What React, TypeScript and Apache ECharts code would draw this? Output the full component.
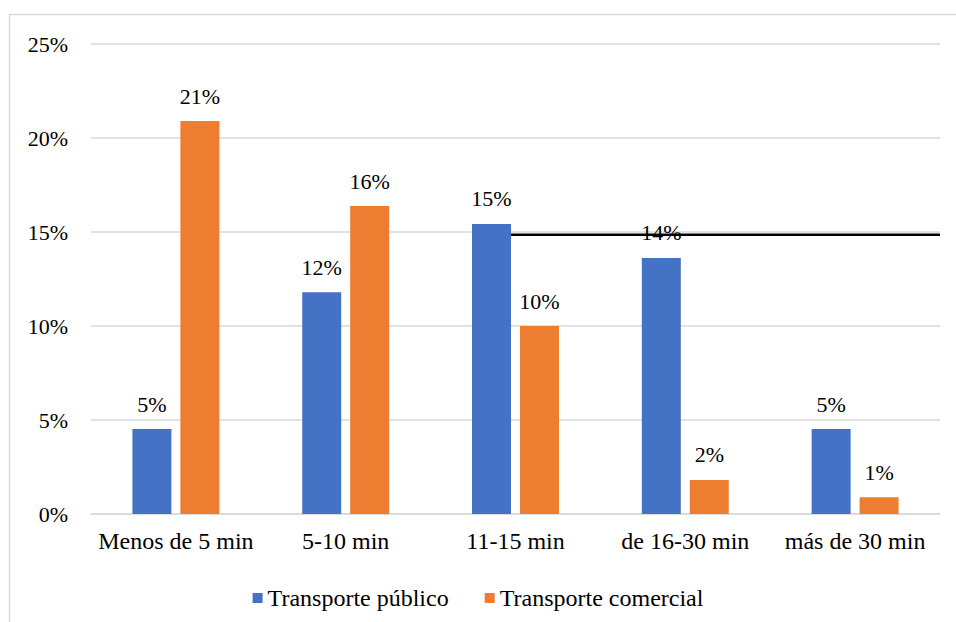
import React, { useEffect, useRef } from "react";
import * as echarts from "echarts";

const categories = ["Menos de 5 min", "5-10 min", "11-15 min", "de 16-30 min", "más de 30 min"];
const publicoName = "Transporte público";
const comercialName = "Transporte comercial";
const publicoValues = [4.52, 11.8, 15.43, 13.62, 4.52];
const comercialValues = [20.9, 16.38, 10.0, 1.81, 0.89];
const yTicks = [0, 5, 10, 15, 20, 25];

// reference line drawn across the right part of the plot (x in category units, 0..5)
const refLineStart = 2.473;
const refLineEnd = 5;
const refLineValue = 14.86;

const FONT = "Liberation Serif";

// keep every chart text in the serif face
const textCss = `.chart-box svg text { font-family: "Liberation Serif", "Times New Roman", serif !important; }`;

function barLabel() {
  return {
    show: true,
    position: "top" as const,
    distance: 14,
    color: "#000",
    fontFamily: FONT,
    fontSize: 22,
    formatter: (p: any) => Math.round(p.value) + "%",
  };
}

export default function App() {
  const ref = useRef<HTMLDivElement>(null);

  useEffect(() => {
    if (!ref.current) return;
    const chart = echarts.init(ref.current, undefined, { renderer: "svg" });
    chart.setOption({
      animation: false,
      backgroundColor: "#fff",
      graphic: [
        {
          type: "rect",
          shape: { x: 9.5, y: 14.5, width: 960, height: 640 },
          style: { fill: "none", stroke: "#d9d9d9", lineWidth: 1.5 },
          silent: true,
        },
      ],
      grid: { left: 91, right: 16, top: 44, bottom: 108, containLabel: false },
      legend: {
        data: [publicoName, comercialName],
        left: "center",
        top: 581,
        itemWidth: 10,
        itemHeight: 10,
        itemGap: 36,
        icon: "rect",
        textStyle: { fontFamily: FONT, fontSize: 24, color: "#000" },
      },
      xAxis: [
        {
          type: "category",
          data: categories,
          axisLine: { lineStyle: { color: "#d9d9d9", width: 1.5 } },
          axisTick: { show: false },
          axisLabel: { color: "#000", fontFamily: FONT, fontSize: 24, margin: 15, interval: 0 },
        },
        { type: "value", min: 0, max: 5, show: false },
      ],
      yAxis: {
        type: "value",
        min: yTicks[0],
        max: yTicks[yTicks.length - 1],
        interval: 5,
        axisLine: { show: false },
        axisTick: { show: false },
        splitLine: { lineStyle: { color: "#d9d9d9", width: 1.5 } },
        axisLabel: {
          color: "#000",
          fontFamily: FONT,
          fontSize: 22,
          margin: 23,
          formatter: (v: number) => v + "%",
        },
      },
      series: [
        {
          name: publicoName,
          type: "bar",
          data: publicoValues,
          barWidth: 39,
          barGap: "23%",
          itemStyle: { color: "#4472C4" },
          label: barLabel(),
        },
        {
          name: comercialName,
          type: "bar",
          data: comercialValues,
          barWidth: 39,
          itemStyle: { color: "#ED7D31" },
          label: barLabel(),
        },
        {
          name: "ref",
          type: "line",
          xAxisIndex: 1,
          data: [
            [refLineStart, refLineValue],
            [refLineEnd, refLineValue],
          ],
          symbol: "none",
          lineStyle: { color: "#000", width: 2.5 },
          z: 5,
          silent: true,
        },
      ],
    });
    return () => chart.dispose();
  }, []);

  return (
    <>
      <style>{textCss}</style>
      <div
        ref={ref}
        className="chart-box"
        style={{ position: "fixed", left: 0, top: 0, width: 956, height: 622 }}
      />
    </>
  );
}
